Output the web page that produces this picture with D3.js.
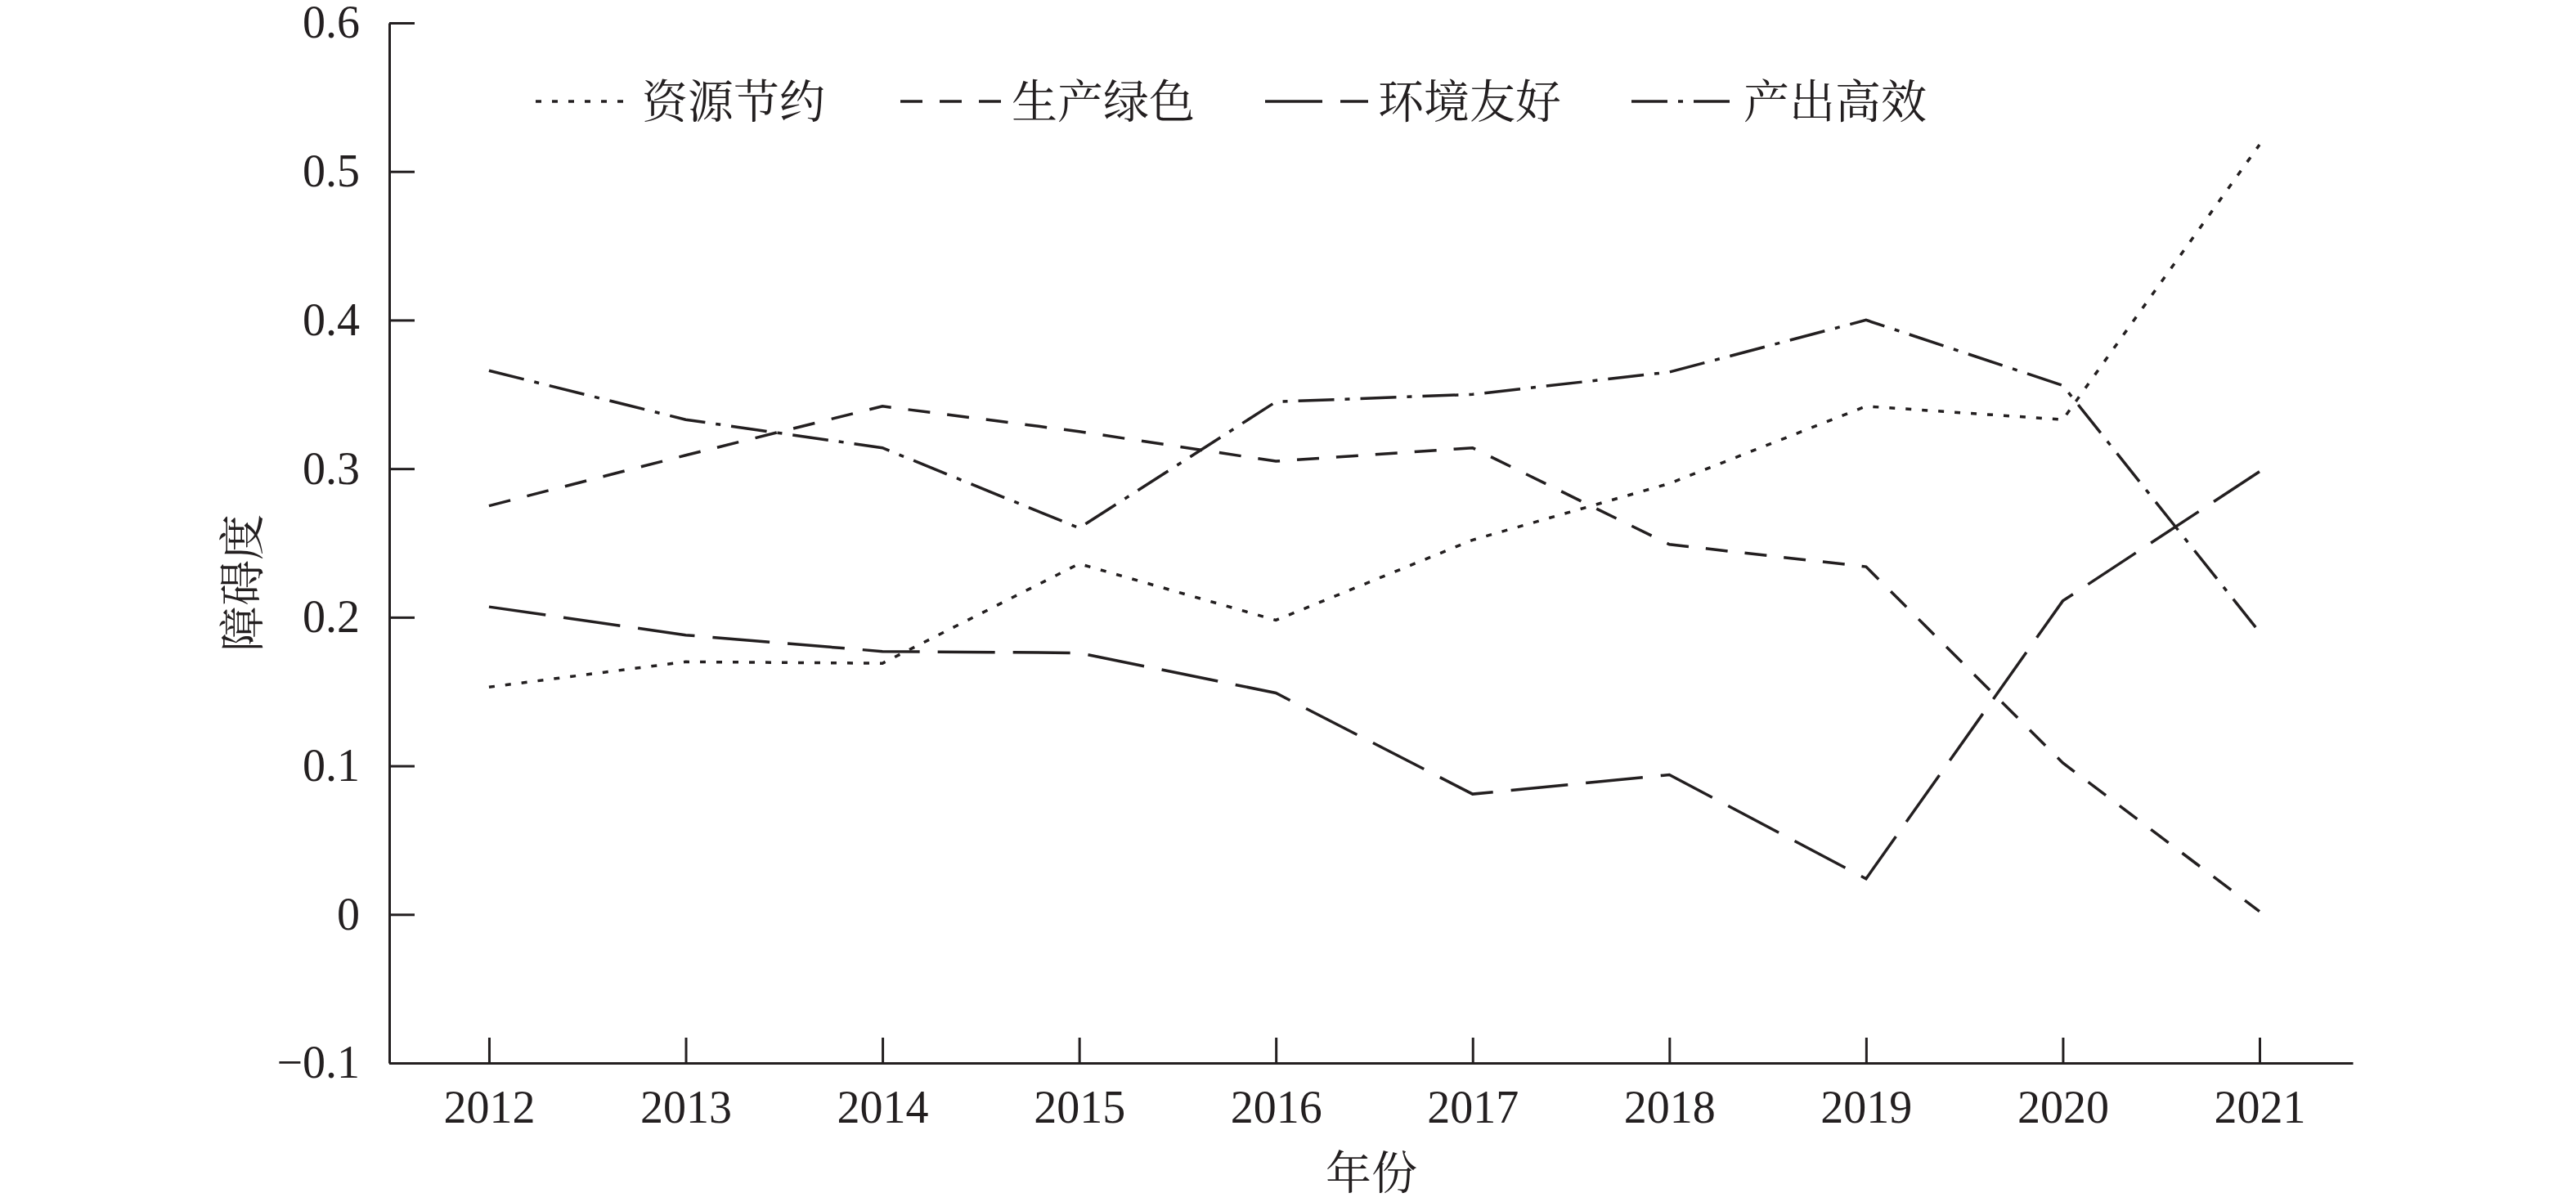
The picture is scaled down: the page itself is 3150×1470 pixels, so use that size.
<!DOCTYPE html>
<html>
<head>
<meta charset="utf-8">
<script src="https://cdn.jsdelivr.net/npm/d3@7/dist/d3.min.js"></script>
<style>
  html, body { margin: 0; padding: 0; background: #fff; }
  svg { display: block; }
</style>
</head>
<body>
<svg id="chart" width="3150" height="1470"></svg>
<script>
// ---- data ----
const years = [2012, 2013, 2014, 2015, 2016, 2017, 2018, 2019, 2020, 2021];
const seriesNames = ["资源节约", "生产绿色", "环境友好", "产出高效"];
const resourceSaving   = [0.153, 0.170, 0.169, 0.236, 0.198, 0.252, 0.290, 0.342, 0.333, 0.518];
const greenProduction  = [0.275, 0.309, 0.342, 0.325, 0.305, 0.314, 0.249, 0.234, 0.102, 0.002];
const envFriendly      = [0.207, 0.188, 0.177, 0.176, 0.149, 0.081, 0.094, 0.024, 0.211, 0.298];
const outputEfficiency = [0.366, 0.333, 0.314, 0.260, 0.345, 0.350, 0.365, 0.400, 0.356, 0.190];
const yTicks = [-0.1, 0, 0.1, 0.2, 0.3, 0.4, 0.5, 0.6];
const xTitle = "年份";
const yTitle = "障碍度";

// ---- styles ----
const ink = "#231f20";
const serif = "'Liberation Serif','Times New Roman',serif";
const cjk = "'Noto Serif CJK SC','Noto Sans CJK SC',sans-serif";
const dashes = ["7,13", "27,21", "70,22", "44,13,6,13"];
const allSeries = [resourceSaving, greenProduction, envFriendly, outputEfficiency];

const svg = d3.select("#chart");

const x = d3.scaleLinear().domain([2011.493, 2021.474]).range([476, 2877]);
const y = d3.scaleLinear().domain([-0.1, 0.6]).range([1300, 28]);

// x axis
const xAxis = svg.append("g")
  .attr("transform", `translate(0,${y(-0.1)})`)
  .call(d3.axisBottom(x).tickValues(years).tickFormat(d3.format("d"))
        .tickSizeInner(-31).tickSizeOuter(0).tickPadding(33));
xAxis.select(".domain").attr("stroke", ink).attr("stroke-width", 3);
xAxis.selectAll(".tick line").attr("stroke", ink).attr("stroke-width", 3);
xAxis.selectAll(".tick text").attr("fill", ink)
  .style("font-family", serif).style("font-size", "56px");

// y axis
const yAxis = svg.append("g")
  .attr("transform", `translate(${x.range()[0]},0)`)
  .call(d3.axisLeft(y).tickValues(yTicks)
        .tickFormat(d => d === 0 ? "0" : d3.format(".1f")(d))
        .tickSizeInner(-31).tickSizeOuter(0).tickPadding(36));
yAxis.select(".domain").attr("stroke", ink).attr("stroke-width", 3);
yAxis.selectAll(".tick line").attr("stroke", ink).attr("stroke-width", 3);
yAxis.selectAll(".tick text").attr("fill", ink)
  .style("font-family", serif).style("font-size", "56px");

// lines
const line = d3.line().x((d, i) => x(years[i])).y(d => y(d));
allSeries.forEach((vals, k) => {
  svg.append("path")
    .datum(vals)
    .attr("d", line)
    .attr("fill", "none")
    .attr("stroke", ink)
    .attr("stroke-width", 3.5)
    .attr("stroke-dasharray", dashes[k]);
});

// legend
const legendLines = [[655, 773], [1101, 1225], [1547, 1673], [1995, 2120]];
const legendY = 124;
seriesNames.forEach((name, k) => {
  svg.append("line")
    .attr("x1", legendLines[k][0]).attr("x2", legendLines[k][1])
    .attr("y1", legendY).attr("y2", legendY)
    .attr("stroke", ink).attr("stroke-width", 3.5)
    .attr("stroke-dasharray", dashes[k]);
  svg.append("text")
    .attr("x", legendLines[k][1] + 12).attr("y", legendY)
    .attr("dy", "0.36em")
    .attr("fill", ink)
    .style("font-family", cjk).style("font-size", "56px")
    .text(name);
});

// axis titles
svg.append("text")
  .attr("x", 1677).attr("y", 1434).attr("dy", "0.36em")
  .attr("text-anchor", "middle").attr("fill", ink)
  .style("font-family", cjk).style("font-size", "56px")
  .text(xTitle);
svg.append("text")
  .attr("transform", "translate(296,713) rotate(-90)")
  .attr("dy", "0.36em")
  .attr("text-anchor", "middle").attr("fill", ink)
  .style("font-family", cjk).style("font-size", "56px")
  .text(yTitle);
</script>
</body>
</html>
